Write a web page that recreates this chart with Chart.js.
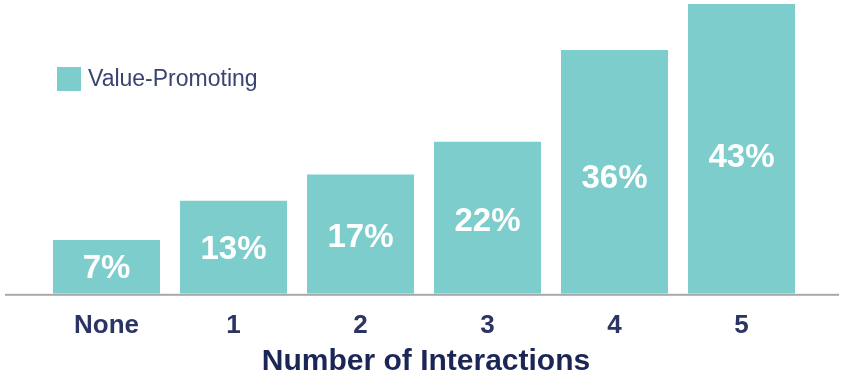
<!DOCTYPE html>
<html>
<head>
<meta charset="utf-8">
<script src="https://cdn.jsdelivr.net/npm/chart.js@4"></script>
<style>
  html, body { margin: 0; padding: 0; background: #fff; }
  #wrap { width: 841px; height: 379px; }
</style>
</head>
<body>
<div id="wrap"><canvas id="myBarChart" width="841" height="379"></canvas></div>
<script>
// chart data
const categories = ['None', '1', '2', '3', '4', '5'];
const seriesName = 'Value-Promoting';
const axisTitle = 'Number of Interactions';
const valuePromoting = [7, 13, 17, 22, 36, 43];
const valueLabels = ['7%', '13%', '17%', '22%', '36%', '43%'];

const barColor = '#7dcdcd';
const navy = '#2b3462';
const fontFamily = '"Liberation Sans", Arial, sans-serif';

// full width axis line, bar labels, legend and axis title
const decorations = {
  id: 'decorations',
  afterDatasetsDraw(chart) {
    const ctx = chart.ctx;
    const area = chart.chartArea;
    ctx.save();
    ctx.fillStyle = '#a8a8ac';
    ctx.fillRect(5, area.bottom, 834, 2);

    // value labels in bars
    const meta = chart.getDatasetMeta(0);
    ctx.fillStyle = '#ffffff';
    ctx.font = 'bold 33px ' + fontFamily;
    ctx.textAlign = 'center';
    ctx.textBaseline = 'middle';
    meta.data.forEach((bar, i) => {
      const y = bar.y + (bar.base - bar.y) * 0.53;
      ctx.fillText(valueLabels[i], bar.x, y);
    });

    // legend
    ctx.fillStyle = barColor;
    ctx.fillRect(57, 67, 24, 24);
    ctx.fillStyle = '#3a4371';
    ctx.font = '23px ' + fontFamily;
    ctx.textAlign = 'left';
    ctx.fillText(chart.data.datasets[0].label, 88, 80);

    // axis title
    ctx.fillStyle = '#1b2556';
    ctx.font = 'bold 30px ' + fontFamily;
    ctx.textAlign = 'center';
    ctx.fillText(axisTitle, (area.left + area.right) / 2 + 2, 362);
    ctx.restore();
  }
};

new Chart(document.getElementById('myBarChart').getContext('2d'), {
  type: 'bar',
  data: {
    labels: categories,
    datasets: [{
      label: seriesName,
      data: valuePromoting,
      backgroundColor: barColor,
      base: -1.2,
      categoryPercentage: 1,
      barPercentage: 0.843
    }]
  },
  options: {
    responsive: false,
    animation: false,
    layout: { padding: { left: 43, right: 36, top: 4, bottom: 22 } },
    plugins: {
      legend: { display: false },
      tooltip: { enabled: false }
    },
    scales: {
      y: {
        display: false,
        min: -1.2,
        max: 43
      },
      x: {
        grid: { display: false, drawTicks: false },
        border: { display: false },
        ticks: {
          color: navy,
          padding: 16,
          font: { family: fontFamily, size: 26, weight: 'bold' }
        }
      }
    }
  },
  plugins: [decorations]
});
</script>
</body>
</html>
